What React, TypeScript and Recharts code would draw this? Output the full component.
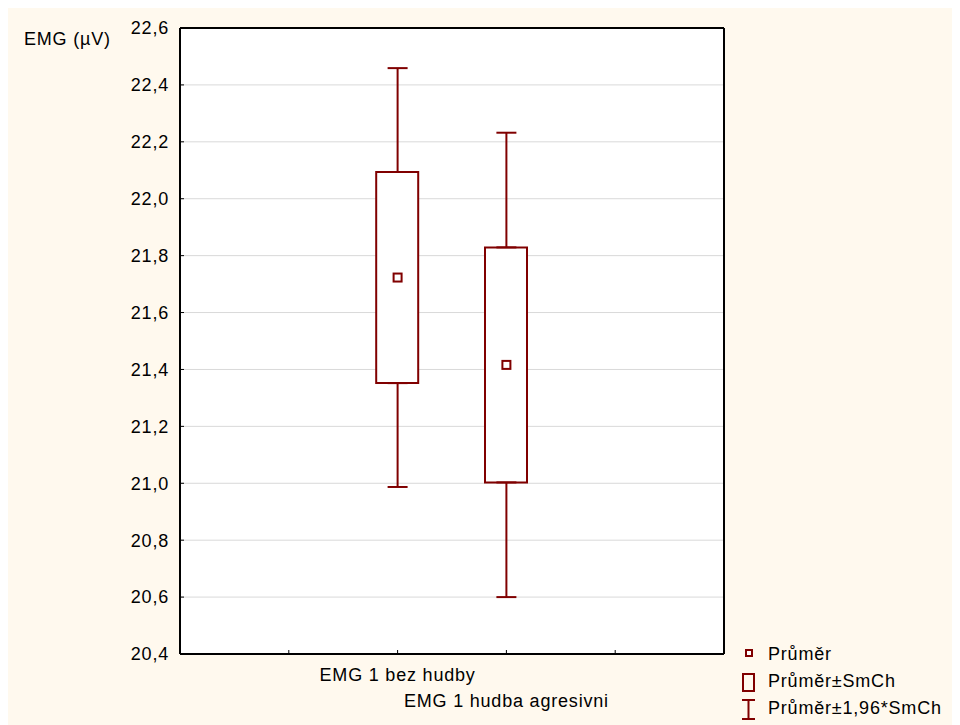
import { ComposedChart, Bar, Scatter, ErrorBar, XAxis, YAxis, CartesianGrid, Label, ReferenceLine } from "recharts";

const categories = ["EMG 1 bez hudby", "EMG 1 hudba agresivni"];
const positions = [2, 3];
const means = [21.723, 21.416];
const stdErrors = [0.371, 0.413];
const ci95 = [0.736, 0.816];
const yTicks = [20.4, 20.6, 20.8, 21.0, 21.2, 21.4, 21.6, 21.8, 22.0, 22.2, 22.4, 22.6];
const xTicks = [0, 1, 2, 3, 4, 5];
const legendLabels = ["Průměr", "Průměr±SmCh", "Průměr±1,96*SmCh"];

const RED = "#800000";
const FONT = "'Liberation Sans', Arial, sans-serif";
const textStyle = { fontFamily: FONT, fontSize: 18, fill: "#000", letterSpacing: 0.8 };

// whiskers are split in two so they stop at the box edges
const data = positions.map((pos, i) => ({
  pos,
  name: categories[i],
  mean: means[i],
  hi: means[i] + stdErrors[i],
  lo: means[i] - stdErrors[i],
  up: [0, ci95[i] - stdErrors[i]],
  down: [ci95[i] - stdErrors[i], 0],
  box: [means[i] - stdErrors[i], means[i] + stdErrors[i]],
}));

const fmt = (v: number) => v.toFixed(1).replace(".", ",");

function XTick(props: any) {
  const { x, y, payload } = props;
  const i = positions.indexOf(payload.value);
  if (i < 0) return <g />;
  return (
    <text x={x} y={y + 27 + i * 26} textAnchor="middle" {...textStyle}>
      {categories[i]}
    </text>
  );
}

function MeanMarker(props: any) {
  const { cx, cy } = props;
  return <rect x={cx - 4} y={cy - 4} width={8} height={8} fill="#fff" stroke={RED} strokeWidth={2} />;
}

function LegendBox() {
  return (
    <svg width={226} height={90} style={{ position: "absolute", left: 726, top: 622 }}>
      <rect x={12} y={20} width={6} height={6} fill="#fff" stroke={RED} strokeWidth={2} />
      <rect x={9} y={44} width={11} height={17} fill="none" stroke={RED} strokeWidth={2} />
      <line x1={8} y1={70} x2={21} y2={70} stroke={RED} strokeWidth={2} />
      <line x1={14.5} y1={70} x2={14.5} y2={89} stroke={RED} strokeWidth={2} />
      <line x1={8} y1={89} x2={21} y2={89} stroke={RED} strokeWidth={2} />
      {legendLabels.map((l, i) => (
        <text key={l} x={34} y={30 + i * 27} {...textStyle}>
          {l}
        </text>
      ))}
    </svg>
  );
}

export default function App() {
  return (
    <div style={{ position: "relative", width: 952, height: 717, background: "#FFF9EE" }}>
      <ComposedChart width={952} height={717} data={data} margin={{ top: 20, right: 236, bottom: 11, left: 112 }}>
        <CartesianGrid vertical={false} stroke="#d9d9d9" fill="#fff" fillOpacity={1} />
        <XAxis
          dataKey="pos"
          type="number"
          domain={[0, 5]}
          ticks={xTicks}
          interval={0}
          height={60}
          tickSize={-4}
          tickMargin={4}
          tick={<XTick />}
          tickLine={{ stroke: "#000", strokeWidth: 1 }}
          axisLine={{ stroke: "#000", strokeWidth: 2 }}
        />
        <YAxis
          type="number"
          domain={[20.4, 22.6]}
          ticks={yTicks}
          interval={0}
          allowDataOverflow
          width={60}
          tickSize={-4}
          tickMargin={15}
          tickFormatter={fmt}
          tick={textStyle}
          tickLine={{ stroke: "#000", strokeWidth: 1 }}
          axisLine={{ stroke: "#000", strokeWidth: 2 }}
        >
          <Label
            content={(p: any) => (
              <text x={p.viewBox.x - 96} y={p.viewBox.y + 17} {...textStyle}>
                EMG (µV)
              </text>
            )}
          />
        </YAxis>
        <ReferenceLine y={22.6} stroke="#000" strokeWidth={2} />
        <ReferenceLine x={5} stroke="#000" strokeWidth={2} />
        <Scatter dataKey="hi" shape={() => <g />} isAnimationActive={false}>
          <ErrorBar dataKey="up" direction="y" width={10} stroke={RED} strokeWidth={2} isAnimationActive={false} />
        </Scatter>
        <Scatter dataKey="lo" shape={() => <g />} isAnimationActive={false}>
          <ErrorBar dataKey="down" direction="y" width={10} stroke={RED} strokeWidth={2} isAnimationActive={false} />
        </Scatter>
        <Bar dataKey="box" barSize={42} fill="#fff" stroke={RED} strokeWidth={2} isAnimationActive={false} />
        <Scatter dataKey="mean" shape={<MeanMarker />} isAnimationActive={false} />
      </ComposedChart>
      <LegendBox />
    </div>
  );
}
